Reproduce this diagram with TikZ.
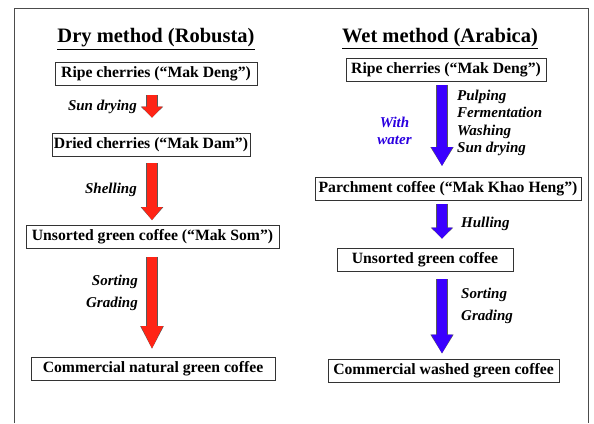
\documentclass[tikz,border=0pt]{standalone}
\usepackage{fontspec}
\setmainfont{Liberation Serif}
\usepackage{tikz}
\usetikzlibrary{arrows.meta}
\definecolor{dryred}{HTML}{FF2415}
\definecolor{wetblue}{HTML}{3A00FF}
\definecolor{waterblue}{HTML}{2B00E0}

\begin{document}
\begin{tikzpicture}[
    x=1pt, y=-1pt,
    font=\fontsize{15.7}{18}\selectfont\bfseries,
    every node/.style={inner sep=0pt},
    heading/.style={font=\fontsize{20.5}{22}\selectfont\bfseries},
    stage/.style={draw=black!80, line width=0.8pt, minimum height=23pt},
    steplabel/.style={font=\fontsize{15}{22}\selectfont\bfseries\itshape},
    blockarr/.style={line width=10pt, -{Triangle[width=20pt, length=#1]},
        preaction={draw=black!65, line width=11.2pt, -{Triangle[width=21.8pt, length=#1]}}},
    dryarr/.style={blockarr=#1, draw=dryred},
    wetarr/.style={blockarr=#1, draw=wetblue}
]

% --- Frame ---
\useasboundingbox (0,0) rectangle (594,423);
\draw[black!70, line width=0.9pt] (14,423) -- (14,8) -- (588,8) -- (588,423);

% --- Column 1: Dry method ---
\node[heading] (DT) at (156,39) {\underline{Dry method (Robusta)}};
\node[stage, minimum width=202pt] (D1) at (156,74) {Ripe cherries (“Mak Deng”)};
\node[stage, minimum width=198pt] (D2) at (151,144.5) {Dried cherries (“Mak Dam”)};
\node[stage, minimum width=253pt] (D3) at (152.5,237) {Unsorted green coffee (“Mak Som”)};
\node[stage, minimum width=244pt] (D4) at (153,369) {Commercial natural green coffee};
\coordinate (dx) at (152,0);

% --- Column 2: Wet method ---
\node[heading] (WT) at (440,39) {\underline{Wet method (Arabica)}};
\node[stage, minimum width=200pt] (W1) at (446,70) {Ripe cherries (“Mak Deng”)};
\node[stage, minimum width=266pt] (W2) at (448,189) {Parchment coffee (“Mak Khao Heng”)};
\node[stage, minimum width=176pt] (W3) at (425,259.5) {Unsorted green coffee};
\node[stage, minimum width=231pt] (W4) at (443.5,370.5) {Commercial washed green coffee};
\coordinate (wx) at (442,0);

% --- Arrows: Dry method ---
\draw[dryarr=11pt, shorten <=9pt, shorten >=15pt] (D1.south -| dx) -- (D2.north -| dx);
\draw[dryarr=13pt, shorten <=7pt, shorten >=5pt] (D2.south -| dx) -- (D3.north -| dx);
\draw[dryarr=23pt, shorten <=8pt, shorten >=8pt] (D3.south -| dx) -- (D4.north -| dx);

% --- Arrows: Wet method ---
\draw[wetarr=19pt, shorten <=3pt, shorten >=11pt] (W1.south -| wx) -- (W2.north -| wx);
\draw[wetarr=11pt, shorten <=3pt, shorten >=9pt] (W2.south -| wx) -- (W3.north -| wx);
\draw[wetarr=19pt, shorten <=8pt, shorten >=5pt] (W3.south -| wx) -- (W4.north -| wx);

% --- Step labels ---
\node[steplabel, anchor=east] (sd) at (137,107) {Sun drying};
\node[steplabel, anchor=east] (sh) at (137,190) {Shelling};
\node[steplabel, anchor=east, align=right] (sg) at (138,293) {Sorting\\Grading};
\node[steplabel, anchor=west, align=left, font=\fontsize{15}{17.3}\selectfont\bfseries\itshape] (pf) at (457,123) {Pulping\\Fermentation\\Washing\\Sun drying};
\node[steplabel, align=center, text=waterblue, font=\fontsize{15}{17}\selectfont\bfseries\itshape] (ww) at (394.5,130.5) {With\\water};
\node[steplabel, anchor=west] (hu) at (461,224) {Hulling};
\node[steplabel, anchor=west, align=left] (wg) at (461,306) {Sorting\\Grading};

\end{tikzpicture}
\end{document}
